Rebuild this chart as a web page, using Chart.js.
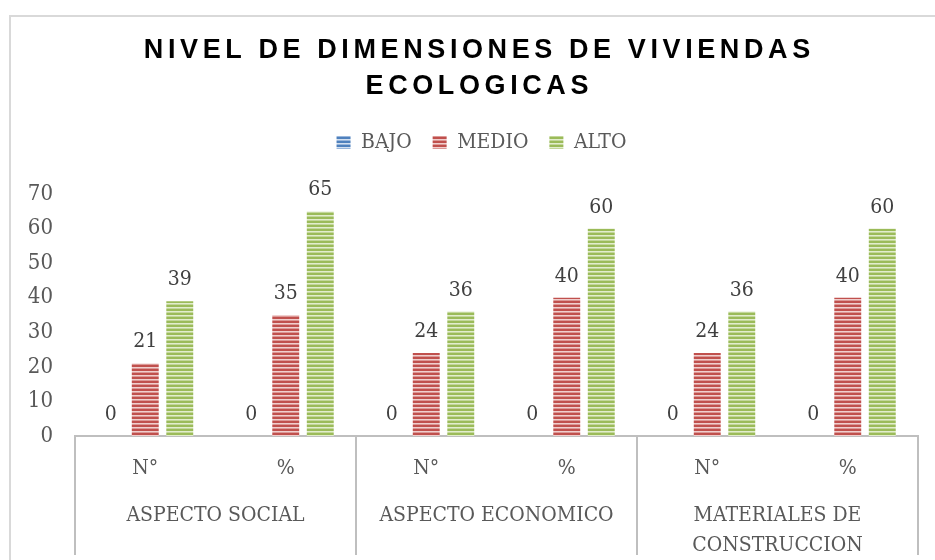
<!DOCTYPE html>
<html>
<head>
<meta charset="utf-8">
<script src="https://cdn.jsdelivr.net/npm/chart.js@4.4.1/dist/chart.umd.min.js"></script>
<style>
  html, body { margin: 0; padding: 0; background: #fff; overflow: hidden; }
  #frame { position: absolute; left: 9px; top: 15px; width: 940px; height: 560px;
           border-left: 2px solid #d9d9d9; border-top: 2px solid #d9d9d9; }
  #chart { display: block; }
</style>
</head>
<body>
<div id="frame"><canvas id="chart" width="932" height="543"></canvas></div>
<script>
// datos del grafico
const titleLines = ['NIVEL DE DIMENSIONES DE VIVIENDAS', 'ECOLOGICAS'];
const subLabels = ['N°', '%', 'N°', '%', 'N°', '%'];
const groupLabels = ['ASPECTO SOCIAL', 'ASPECTO ECONOMICO', ['MATERIALES DE', 'CONSTRUCCION']];
const seriesNames = ['BAJO', 'MEDIO', 'ALTO'];
const bajo = [0, 0, 0, 0, 0, 0];
const medio = [21, 35, 24, 40, 24, 40];
const alto = [39, 65, 36, 60, 36, 60];
const yTicks = [0, 10, 20, 30, 40, 50, 60, 70];

const serif = "'DejaVu Serif Condensed', 'Liberation Serif', serif";
const gridGray = '#bfbfbf';

// relleno con rayas horizontales, como en el original
function stripes(base, light, mid) {
    const c = document.createElement('canvas');
    c.width = 4; c.height = 4;
    const g = c.getContext('2d');
    g.fillStyle = base; g.fillRect(0, 0, 4, 2);
    g.fillStyle = light; g.fillRect(0, 2, 4, 1);
    g.fillStyle = mid; g.fillRect(0, 3, 4, 1);
    return g.createPattern(c, 'repeat');
}

const fills = [
    stripes('#4f81bd', '#d3e0f0', '#9ab7dc'),
    stripes('#c0504d', '#f0cfce', '#dc9896'),
    stripes('#9bbb59', '#e2edcd', '#c3d79a')
];

// titulo con espaciado entre letras
const titlePlugin = {
    id: 'titleSpaced',
    afterDraw(chart) {
        const ctx = chart.ctx;
        ctx.save();
        ctx.font = "bold 27px 'Liberation Sans', Arial, sans-serif";
        ctx.fillStyle = '#000';
        ctx.textBaseline = 'middle';
        ctx.textAlign = 'left';
        const ls = 4.6;
        const cx = chart.width / 2;
        titleLines.forEach((line, i) => {
            const chars = Array.from(line);
            const total = chars.reduce((s, ch) => s + ctx.measureText(ch).width, 0) + ls * (chars.length - 1);
            let x = cx - total / 2;
            const y = 34 + i * 36;
            chars.forEach(ch => {
                ctx.fillText(ch, x, y);
                x += ctx.measureText(ch).width + ls;
            });
        });
        ctx.restore();
    }
};

// la leyenda va un poco a la derecha, centrada sobre el marco
const legendShift = {
    id: 'legendShift',
    afterLayout(chart) {
        chart.legend.left += 17;
        chart.legend.right += 17;
    }
};

// etiquetas de valores encima de las barras
const valueLabels = {
    id: 'valueLabels',
    afterDatasetsDraw(chart) {
        const ctx = chart.ctx;
        ctx.save();
        ctx.font = '21px ' + serif;
        ctx.fillStyle = '#404040';
        ctx.textAlign = 'center';
        ctx.textBaseline = 'alphabetic';
        chart.data.datasets.forEach((ds, di) => {
            chart.getDatasetMeta(di).data.forEach((bar, i) => {
                ctx.fillText(String(ds.data[i]), bar.x, bar.y - 16);
            });
        });
        ctx.restore();
    }
};

// lineas separadoras de los grupos del eje x
const groupLines = {
    id: 'groupLines',
    afterDraw(chart) {
        const x = chart.scales.x;
        const ctx = chart.ctx;
        ctx.save();
        ctx.strokeStyle = gridGray;
        ctx.lineWidth = 2;
        const per = subLabels.length / (groupLabels.length);
        for (let g = 0; g <= groupLabels.length; g++) {
            const px = Math.round(x.getPixelForValue(g * per - 0.5));
            ctx.beginPath();
            ctx.moveTo(px, chart.chartArea.bottom);
            ctx.lineTo(px, 538);
            ctx.stroke();
        }
        ctx.restore();
    }
};

new Chart(document.getElementById('chart'), {
    type: 'bar',
    data: {
        labels: subLabels,
        datasets: [
            { label: seriesNames[0], data: bajo, backgroundColor: fills[0], borderWidth: 0 },
            { label: seriesNames[1], data: medio, backgroundColor: fills[1], borderWidth: 0 },
            { label: seriesNames[2], data: alto, backgroundColor: fills[2], borderWidth: 0 }
        ]
    },
    options: {
        responsive: false,
        animation: false,
        devicePixelRatio: 1,
        categoryPercentage: 0.737,
        barPercentage: 0.78,
        layout: { padding: { top: 94, left: 0, right: 25, bottom: 0 } },
        plugins: {
            title: { display: false },
            tooltip: { enabled: false },
            legend: {
                position: 'top',
                labels: {
                    boxWidth: 14,
                    boxHeight: 13,
                    padding: 21,
                    color: '#595959',
                    font: { family: serif, size: 21 }
                }
            }
        },
        scales: {
            x: {
                grid: { display: false, drawTicks: false },
                border: { display: true, color: gridGray, width: 2 },
                ticks: { color: '#595959', font: { family: serif, size: 21 }, padding: 20, maxRotation: 0 },
                afterFit: s => { s.height = 60; }
            },
            x2: {
                type: 'category',
                position: 'bottom',
                labels: groupLabels,
                grid: { display: false, drawTicks: false },
                border: { display: false },
                ticks: { color: '#595959', font: { family: serif, size: 21, lineHeight: 1.45 }, padding: 4,
                         maxRotation: 0, autoSkip: false },
                afterFit: s => { s.height = 64; }
            },
            y: {
                min: 0,
                max: 79,
                grid: { display: false, drawTicks: false },
                border: { display: false },
                ticks: { color: '#595959', font: { family: serif, size: 22 }, padding: 22 },
                afterBuildTicks: s => { s.ticks = yTicks.map(v => ({ value: v })); },
                afterFit: s => { s.width = 64; }
            }
        }
    },
    plugins: [titlePlugin, legendShift, valueLabels, groupLines]
});
</script>
</body>
</html>
